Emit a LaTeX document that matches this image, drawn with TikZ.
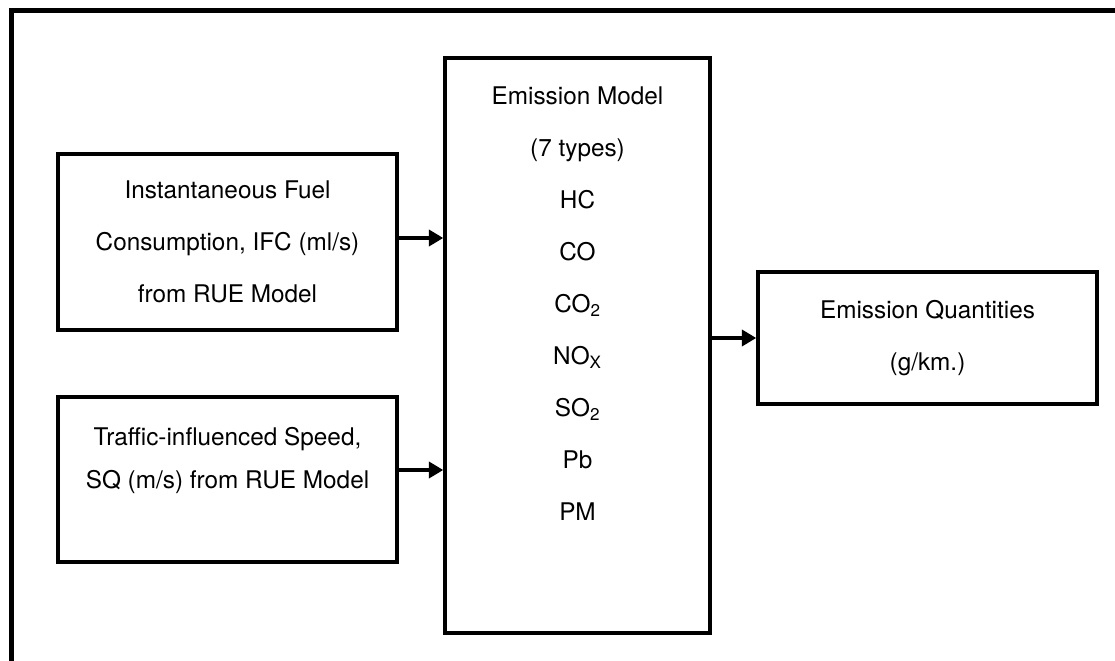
\documentclass[tikz,border=0pt]{standalone}
\usepackage{fontspec}
\setmainfont{TeX Gyre Heros}
\usetikzlibrary{arrows.meta,positioning}

\begin{document}
\begin{tikzpicture}[
  x=0.025cm,y=-0.025cm,
  box/.style={rectangle,draw,line width=2.4pt,inner sep=0pt,align=center,
    font=\fontsize{17.3}{37}\selectfont},
  boxtext/.style={inner sep=0pt,align=center,font=\fontsize{17.3}{37}\selectfont},
  flow/.style={line width=2.7pt,-{Triangle[length=0.36cm,width=0.4cm]}},
]
\useasboundingbox (0,0) rectangle (1115,661);
\clip (0,0) rectangle (1115,661);
% outer frame, only top and left sides show
\draw [line width=3pt] (11.5,10.5) rectangle (1140,700);

% inputs
\node [box,minimum width=8.475cm,minimum height=4.4cm] (ifc) at (227.5,242)
  {Instantaneous Fuel\\Consumption, IFC (ml/s)\\from RUE Model};
\node [box,minimum width=8.475cm,minimum height=4.125cm,
  font=\fontsize{17.3}{30.5}\selectfont] (speed) at (227.5,479.5)
  {Traffic-influenced Speed,\\SQ (m/s) from RUE Model\\[0pt]~};

% emission model
\node [box,minimum width=6.625cm,minimum height=14.375cm] (emis) at (577.5,345.5) {};
\node [boxtext,anchor=north] (emistxt) at ([yshift=-0.75cm]emis.north)
  {Emission Model\\(7 types)\\HC\\CO\\CO\textsubscript{2}\\NO\textsubscript{X}\\
   SO\textsubscript{2}\\Pb\\PM};

% output
\node [box,minimum width=8.475cm,minimum height=3.3cm] (qty) at (927.5,338)
  {Emission Quantities\\(g/km.)};

\draw [flow] (ifc.east |- 0,238) -- (emis.west |- 0,238);
\draw [flow] (speed.east |- 0,470) -- (emis.west |- 0,470);
\draw [flow] (emis.east |- qty.west) -- (qty.west);
\end{tikzpicture}
\end{document}
